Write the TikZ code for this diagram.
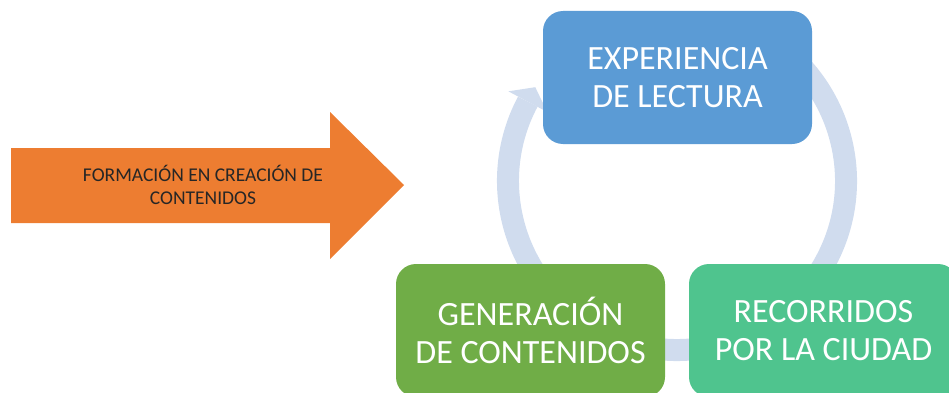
\documentclass[tikz,border=0pt]{standalone}
\usepackage{fontspec}
\setmainfont{Carlito}
\usetikzlibrary{calc}
\definecolor{ringc}{HTML}{D0DCEE}
\definecolor{bluec}{HTML}{5B9BD5}
\definecolor{greenc}{HTML}{70AD47}
\definecolor{tealc}{HTML}{4FC48E}
\definecolor{orangec}{HTML}{ED7D31}
\tikzset{
  stage/.style={rounded corners=20pt, minimum width=269pt, minimum height=133pt,
    inner sep=0pt, align=center, text=white, font=\fontsize{34}{38}\selectfont},
  ringline/.style={draw=ringc, line width=22pt},
}
\begin{document}
\begin{tikzpicture}[x=1pt,y=1pt]
\useasboundingbox (0,0) rectangle (949,392);
\clip (0,0) rectangle (949,392);
% left arrow
\fill[orangec] (11,244) -- (330,244) -- (330,280) -- (404,207) -- (330,133) -- (330,169) -- (11,169) -- cycle;
\node[font=\fontsize{19.5}{23}\selectfont, text=black!85, align=center] (form) at (203,207.5) {FORMACIÓN EN CREACIÓN DE\\CONTENIDOS};
% ring
\coordinate (ctr) at (677,211);
\draw[ringline] ($(ctr)+(152:169)$) arc[start angle=152, end angle=420, radius=169];
\fill[ringc] ($(ctr)+(152:191)$) -- ($(ctr)+(146.5:170)$) -- ($(ctr)+(152:147)$) -- cycle;
% boxes
\node[stage, fill=bluec] (exp) at (677.5,314.5) {EXPERIENCIA\\DE LECTURA};
\node[stage, fill=greenc] (gen) at (530.5,61.5) {GENERACIÓN\\DE CONTENIDOS};
\node[stage, fill=tealc] (rec) at (823.5,61.5) {RECORRIDOS\\POR LA CIUDAD};
\end{tikzpicture}
\end{document}
